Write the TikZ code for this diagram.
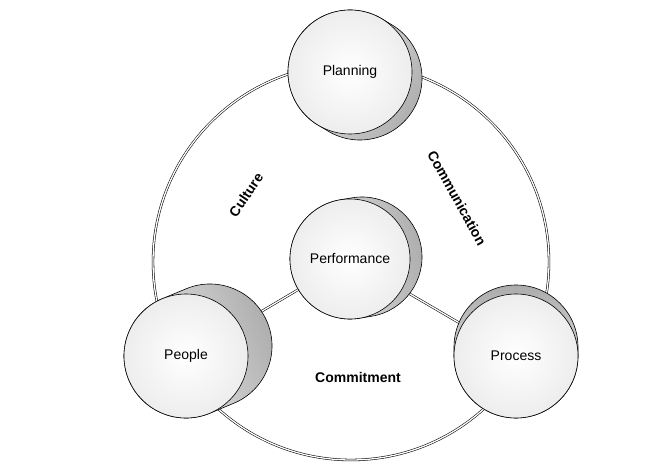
\documentclass[tikz,border=0pt]{standalone}
\usepackage{fontspec}
\setmainfont{Liberation Sans}
\usetikzlibrary{calc,backgrounds}
\tikzset{
 face/.style={circle, draw=black, line width=0.6pt, inner sep=0pt, shading=radial, inner color=white, outer color=gray!14, font=\fontsize{14}{16}\selectfont},
 ringline/.style={draw=black, line width=0.55pt, double=white, double distance=1.3pt},
 sidefill/.style={line width=0.6pt, draw=black},
 lbl/.style={font=\fontsize{14}{16}\selectfont\bfseries, inner sep=0pt},
}
\newcommand\mycyl[7]{%
 \pgfmathsetmacro\myth{atan2(#5,#4)}%
 \pgfmathsetmacro\myta{\myth+90}%
 \pgfmathsetmacro\mytb{\myth-90}%
 \pgfmathsetmacro\mysa{\myth-90}%
 \path[sidefill, top color=gray!65, bottom color=gray!8, shading angle=\mysa]
   ($(#2,#3)+(\myta:#6pt)$) -- ($(#2,#3)+(#4,#5)+(\myta:#6pt)$)
   arc[start angle=\myta, end angle=\myta-180, radius=#6pt]
   -- ($(#2,#3)+(\mytb:#6pt)$)
   arc[start angle=\mytb, end angle=\mytb-180, radius=#6pt] -- cycle;
 \node[face, minimum size=2*#6pt] (#1) at (#2,#3) {#7};
}
\begin{document}
\begin{tikzpicture}[x=1pt,y=1pt]
\useasboundingbox (0,0) rectangle (668,474);
\mycyl{plan}{350}{402}{10}{-6}{62}{Planning}
\mycyl{perf}{350}{215}{12}{2}{60}{Performance}
\mycyl{people}{186}{118}{24}{10}{62}{People}
\mycyl{proc}{516}{118}{0}{9}{62}{Process}
\begin{scope}[on background layer]
 \fill[white] (0,0) rectangle (668,474);
 \node[circle, ringline, minimum size=396pt, inner sep=0pt] (ring) at (351,212) {};
 \draw[ringline] (perf.center) -- (plan.center);
 \draw[ringline] (perf.center) -- (people.center);
 \draw[ringline] (perf.center) -- (proc.center);
\end{scope}
\node[lbl, rotate=56] (culture) at (246,279) {Culture};
\node[lbl, rotate=-61] (comm) at (457,276) {Communication};
\node[lbl] (commit) at (358,97) {Commitment};
\end{tikzpicture}
\end{document}
